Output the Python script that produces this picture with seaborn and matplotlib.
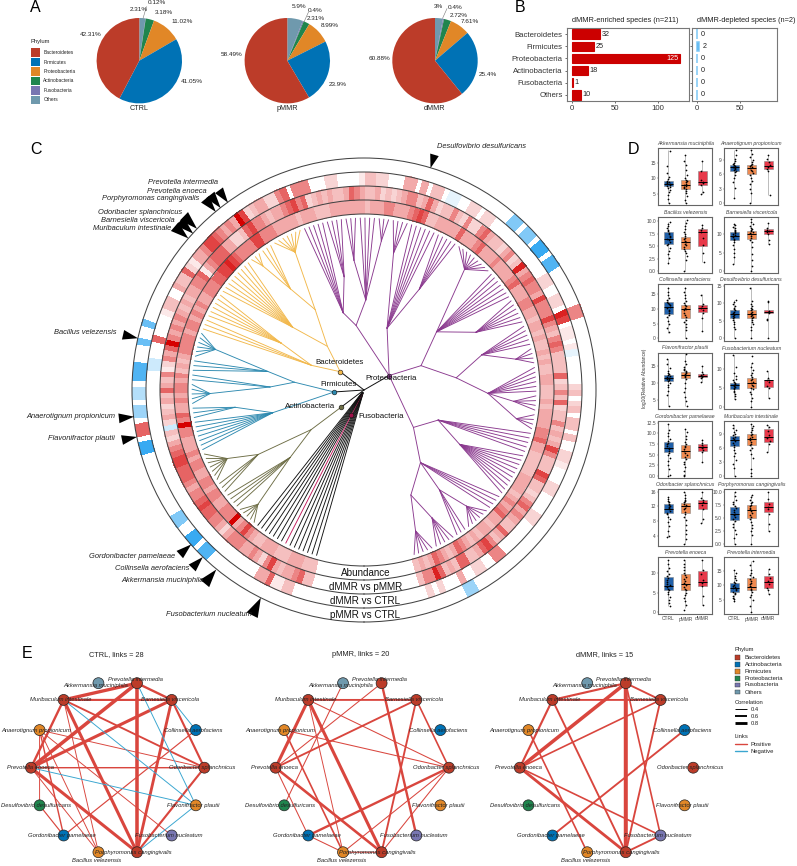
import numpy as np
import pandas as pd
import matplotlib
matplotlib.use('Agg')
import matplotlib.pyplot as plt
import seaborn as sns
from matplotlib.colors import LinearSegmentedColormap, Normalize
from matplotlib.markers import MarkerStyle
from matplotlib.path import Path
from matplotlib.patches import Rectangle
from matplotlib.transforms import Affine2D

sns.set_theme(style='white')
plt.rcParams['font.family'] = ['Liberation Sans', 'DejaVu Sans']

W, H = 797, 866

# ---------- panel A ----------
pie_phyla = ['Others', 'Fusobacteria', 'Actinobacteria', 'Proteobacteria', 'Firmicutes', 'Bacteroidetes']
pie_colors = ['#6F99AD', '#7876B1', '#20854E', '#E18727', '#0072B5', '#BC3C29']
ctrl_pct = [2.31, 0.12, 3.18, 11.02, 41.05, 42.31]
pmmr_pct = [5.9, 0.4, 2.31, 8.99, 23.9, 58.49]
dmmr_pct = [3, 0.4, 2.72, 7.61, 25.4, 60.88]

# ---------- panel B ----------
bar_phyla = ['Bacteroidetes', 'Firmicutes', 'Proteobacteria', 'Actinobacteria', 'Fusobacteria', 'Others']
enriched = [32, 25, 125, 18, 1, 10]
depleted = [0, 2, 0, 0, 0, 0]

# ---------- panel C rings, one value per species, clockwise from the bottom ----------
ring_abundance = [
    3, 3, 3, 4, 4, 4, 3, 3, 3, 4,
    4, 4, 3, 3, 4, 5, 7, 5, 4, 9,
    5, 5, 5, 4, 4, 5, 5, 4, 5, 5,
    4, 4, 5, 5, 4, 5, 4, 4, 4, 5,
    5, 9, 5, 6, 4, 4, 5, 4, 5, 5,
    4, 5, 3, 4, 3, 4, 5, 5, 5, 5,
    4, 5, 5, 4, 5, 4, 5, 4, 4, 5,
    5, 5, 6, 6, 7, 7, 8, 7, 6, 5,
    5, 5, 5, 7, 7, 5, 5, 5, 4, 4,
    4, 4, 4, 3, 4, 4, 4, 3, 3, 3,
    4, 4, 4, 4, 4, 4, 4, 3, 4, 4,
    4, 5, 5, 4, 4, 4, 5, 6, 7, 6,
    3, 3, 4, 4, 4, 4, 4, 6, 4, 4,
    4, 5, 6, 4, 4, 4, 5, 4, 4, 4,
    4, 5, 6, 4, 4, 4, 5, 5, 4, 4,
    3, 4, 4, 3, 4, 3, 3, 4, 3, 4,
    3, 3, 4, 4, 3, 3, 3, 4, 3, 4,
    4, 4, 4, 5, 5, 6, 4, 4, 3, 3,
    3, 3, 3, 4, 4, 4, 4, 3, 4, 5,
    4, 5, 6, 4, 4, 3, 4, 4, 3, 4,
    3, 4, 5, 6, 4, 3, 4, 5, 6, 4,
    3, 4, 3]
ring_dmmr_pmmr = [
    3, 3, 6, 5, 4, 4, 3, 4, 7, 5,
    2, 4, 5, 4, 4, 5, 5, 5, 4, 2,
    4, 5, 5, 6, 6, 7, 6, 5, 5, 4,
    5, 6, 6, 6, 7, 7, 6, 5, 4, 2,
    3, -2, 2, 4, 3, 2, 4, 3, 6, 4,
    3, 5, 1, 2, 5, 4, 6, 9, 5, 4,
    5, 4, 5, 4, 3, 4, 3, 4, 4, 5,
    5, 6, 1, 4, 5, 6, 6, 6, 4, 4,
    2, 2, 3, 6, 7, 5, 5, 4, 3, 4,
    4, 5, 6, 7, 5, 6, 2, 3, 4, 3,
    4, 3, 3, 4, 6, 5, 4, 3, 3, 4,
    2, 3, 2, 3, 4, 5, 5, 3, 4, 6,
    4, 2, 3, 3, 5, 3, 2, 5, 2, 2,
    5, 6, 4, 3, 3, 2, 4, 5, 2, 3,
    8, 4, 5, 6, 5, 5, 4, 7, 5, 5,
    5, 7, 5, 4, 3, 5, 6, 5, 3, 3,
    3, 3, 6, 2, 3, 5, 3, 6, 2, 3,
    3, 5, 3, 4, 3, 4, 7, 5, 3, 3,
    3, 7, 6, 3, 3, 2, 3, 5, 6, 4,
    5, 4, 3, 3, 6, 4, 3, 5, 7, 6,
    4, 3, 3, 6, 6, 3, 4, 3, 6, 8,
    5, 5, 3]
ring_dmmr_ctrl = [
    0, 0, 0, 3, 3, 1, 1, 6, 4, 4,
    0, 0, 0, 0, 0, 0, 0, 0, 0, 0,
    0, 0, 0, 0, 0, 0, 0, 0, 0, 0,
    0, 0, 0, 0, 0, 0, 0, 0, 0, 0,
    0, 0, 0, 0, 0, 0, 0, 0, 0, 0,
    0, 0, -2, -2, 0, 0, 0, 6, 0, 0,
    0, 0, 1, 3, 3, 0, 0, 4, 3, 3,
    6, 2, 1, 4, 4, 5, 7, 7, 6, 5,
    4, 5, 4, 9, 7, 2, 3, 4, 4, 2,
    2, 5, 6, 0, 5, 5, 5, 0, 0, 0,
    2, 2, 0, 0, 0, 0, 1, 3, 3, 2,
    2, 0, 0, 0, 4, 4, 0, 4, 0, 3,
    3, 0, -1, -1, 0, 0, 2, 2, 0, 2,
    2, 0, 0, 0, 0, 0, 0, 0, 0, 0,
    0, 0, 0, 0, 2, 2, 0, 0, 2, 2,
    0, 8, 7, 0, 1, 1, 0, 1, -1, 0,
    0, 0, 0, 0, 2, 3, 0, 2, 3, 0,
    3, 3, 0, 3, 0, 0, 2, 2, 1, 0,
    0, 0, 2, 2, 0, 0, 0, 0, 2, 2,
    0, 0, 0, 0, 0, 0, 0, 5, 5, 0,
    0, 2, 2, 0, 0, 4, 0, 0, 0, 2,
    0, 2, 0]
ring_pmmr_ctrl = [
    0, 0, 0, 0, 0, 0, 0, 0, 0, 0,
    0, 0, 0, 0, 0, 0, 0, 0, -7, -7,
    0, -8, -8, 0, 0, -5, -5, 0, 0, 0,
    0, 0, 0, 0, 0, 0, 0, 0, -8, -8,
    0, 6, 6, 0, -4, -4, 0, -3, -3, 0,
    -7, -7, -7, 0, 0, 0, -6, 0, 0, -6,
    0, 0, 0, 0, 0, 0, 0, 0, 0, 0,
    0, 0, 0, 0, 0, 0, 0, 0, 0, 0,
    0, 0, 0, 0, 0, 0, 0, 0, 0, 0,
    0, 0, 0, 0, 0, 0, 0, 0, 0, 0,
    0, 0, 0, 0, 0, 0, 0, 0, 0, 0,
    0, 0, 0, 0, 0, 0, 0, 0, 0, 0,
    0, 0, 0, 0, 0, 0, 0, 0, 0, 0,
    0, 0, 0, -5, -5, 0, -5, -5, 0, -8,
    -8, 0, -7, -7, 0, 0, 0, 0, 0, 0,
    0, 5, 5, 0, 0, 0, 0, 0, 0, 0,
    0, 0, 0, 0, 0, 0, 0, 0, 0, 0,
    0, 0, 0, 0, 0, 0, 0, 0, 0, 0,
    0, 0, 0, 0, 0, 0, 0, 0, 0, 0,
    0, 0, 0, 0, 0, 0, 0, 0, 0, 0,
    0, 0, 0, 0, -4, -4, 0, 0, 0, 0,
    0, 0, 0]
rings = [ring_abundance, ring_dmmr_pmmr, ring_dmmr_ctrl, ring_pmmr_ctrl]
ring_names = ['Abundance', 'dMMR vs pMMR', 'dMMR vs CTRL', 'pMMR vs CTRL']

# tree clades: (node radius, children); a plain int means that many tips on the node
tree_actino = (29, [(66, [(100, [(156, [5]), 4]), (124, [3, (153, [7])])])])
tree_firmi = (30, [(94, [7, (130, [3])]), (70, [(94, [(154, [5]), 2]), (98, [3, (154, [6])])])])
tree_bacte = (30, [(58, [3, (95, [6])]),
                   (57, [(95, [9]), (94, [(125, [(160, [3]), 3]), (154, [7])])])])
tree_proteo = (29, [
    (65, [(80, [5, (115, [4])]), (90, [(130, [3]), 4, (150, [3])])]),
    (66, [(140, [4]), 6, (115, [5])]),
    (62, [(93, [(157, [9]), 7, (126, [6])]),
          (93, [(123, [5, (155, [4])]), (124, [6, (150, [4]), (155, [4])])])]),
    (62, [(80, [5, (110, [10])]),
          (92, [4, (125, [(155, [6]), 3]), (115, [(145, [5]), (150, [5])])])]),
])

target_names = ['Fusobacterium nucleatum', 'Akkermansia muciniphila', 'Collinsella aerofaciens',
                'Gordonibacter pamelaeae', 'Flavonifractor plautii', 'Anaerotignum propionicum',
                'Bacillus velezensis', 'Muribaculum intestinale', 'Barnesiella viscericola',
                'Odoribacter splanchnicus', 'Porphyromonas cangingivalis', 'Prevotella enoeca',
                'Prevotella intermedia', 'Desulfovibrio desulfuricans']
target_index = [7.5, 16, 18.9, 21.6, 41, 44.4, 57, 75, 76, 77, 81, 82, 83.5, 117.5]
target_size = [14, 13, 11, 11, 11, 11, 11, 13, 13, 13, 12, 12, 11, 10]

# ---------- panel D: [low, q1, median, q3, high] and points per group ----------
groups = ['CTRL', 'pMMR', 'dMMR']
group_colors = ['#1f5fa8', '#f08a50', '#e8394a']

akk_box = [[1.9, 7.3, 8.2, 9, 19], [2, 6.6, 7.8, 9.4, 17.5], [4.8, 7.8, 8.6, 12.4, 15.5]]
akk_pts = [[2.1, 3.4, 4.5, 5.6, 6.3, 6.9, 7.2, 7.5, 7.8, 8, 8.2, 8.4, 8.6, 8.9, 9.1, 9.6, 10.4, 11.8, 14, 18.7],
           [2, 3.1, 4.2, 5.2, 5.9, 6.4, 6.8, 7.2, 7.6, 7.9, 8.2, 8.6, 9, 9.4, 10, 11, 12.6, 14.2, 15.6, 17.4],
           [4.8, 5.4, 7.9, 8.3, 8.7, 9.5, 12.3, 15.4]]
ana_box = [[1, 6.7, 7.5, 8, 11.1], [0, 6, 7.3, 8, 11], [1.7, 7.05, 7.75, 8.8, 10]]
ana_pts = [[1, 3.1, 4.3, 5.2, 5.9, 6.5, 6.8, 7, 7.2, 7.4, 7.5, 7.6, 7.8, 7.9, 8.1, 8.3, 8.7, 9.2, 10, 11],
           [0, 2, 3, 3.9, 4.6, 5.2, 5.8, 6.2, 6.7, 7, 7.3, 7.5, 7.7, 7.9, 8.2, 8.6, 9, 9.6, 10.3, 11],
           [1.7, 6.8, 7.2, 7.6, 7.9, 8.6, 9.2, 10]]
bac_box = [[1.5, 5.4, 6.5, 7.9, 9.8], [0, 4.5, 5.8, 6.8, 10.2], [1.9, 5, 7.8, 8.5, 9.4]]
bac_pts = [[1.6, 2.7, 3.4, 4.1, 4.7, 5.2, 5.5, 5.9, 6.2, 6.5, 6.8, 7.1, 7.4, 7.7, 8, 8.3, 8.7, 9, 9.4, 9.8],
           [0, 2.2, 3, 3.6, 4.1, 4.5, 4.9, 5.2, 5.5, 5.8, 6.1, 6.4, 6.7, 7, 7.4, 7.9, 8.5, 9, 9.6, 10.2],
           [1.9, 3.6, 5.2, 6.6, 7.8, 8.2, 8.7, 9.3]]
bar_box = [[1.8, 8.4, 9.5, 10.6, 12.6], [0, 8.7, 10, 10.9, 14], [7.3, 9.9, 10.7, 11.4, 13]]
bar_pts = [[1.9, 3.7, 4.9, 5.9, 7, 7.8, 8.3, 8.7, 9.1, 9.4, 9.7, 10, 10.3, 10.6, 10.9, 11.2, 11.6, 12, 12.4, 12.7],
           [0, 1.4, 2.9, 4.5, 6.4, 7.8, 8.5, 9, 9.4, 9.9, 10.2, 10.5, 10.8, 11, 11.3, 11.7, 12.1, 12.6, 13.3, 14],
           [7.4, 8.3, 9.9, 10.5, 10.8, 11.2, 11.6, 12.9]]
col_box = [[1.9, 8.4, 10.6, 12.3, 17.4], [0, 6.9, 10, 11.2, 17.4], [2.5, 9, 10.3, 11.2, 15]]
col_pts = [[2, 3.5, 4.8, 6, 7.2, 8, 8.6, 9.2, 9.8, 10.3, 10.8, 11.2, 11.6, 12, 12.4, 13, 13.8, 14.7, 15.8, 17.3],
           [0, 2.8, 3.9, 4.8, 5.6, 6.4, 7.1, 8, 8.8, 9.5, 10, 10.5, 10.9, 11.3, 11.9, 12.7, 13.6, 14.6, 15.8, 17.3],
           [2.5, 7, 8.7, 9.6, 10.3, 10.9, 11.6, 14.9]]
des_box = [[0, 5.9, 7.1, 8, 11], [0, 5.9, 7.1, 8, 14.6], [0, 7.3, 7.6, 8, 10.6]]
des_pts = [[0, 2.6, 3.4, 4.1, 4.7, 5.2, 5.7, 6.1, 6.5, 6.8, 7.1, 7.4, 7.7, 8, 8.3, 8.7, 9.2, 9.8, 10.4, 11],
           [0, 2.4, 3.2, 4, 4.6, 5.2, 5.7, 6.1, 6.5, 6.8, 7.1, 7.4, 7.7, 8, 8.3, 8.7, 9.2, 9.8, 10.6, 14.5],
           [0, 5.3, 5.6, 7.3, 7.6, 7.9, 10.3, 10.6]]
fla_box = [[3, 10.5, 11.3, 12.3, 17], [3, 11.3, 12.3, 13, 18.5], [10.2, 11.5, 12, 12.6, 15]]
fla_pts = [[3.1, 6.4, 7.5, 8.6, 9.4, 10, 10.4, 10.7, 11, 11.2, 11.4, 11.6, 11.9, 12.2, 12.5, 12.9, 13.4, 14.2, 15.4, 16.8],
           [3.1, 4.6, 5.8, 7.2, 8.5, 10, 11, 11.5, 11.9, 12.2, 12.5, 12.7, 13, 13.3, 13.7, 14.1, 14.7, 15.4, 16.4, 18.4],
           [10.3, 11.4, 11.7, 12, 12.2, 12.6, 13.2, 15]]
fus_box = [[2, 4.7, 5.7, 6.2, 13.7], [0, 4.8, 6.2, 7.6, 11.6], [2.3, 5.2, 6.9, 7.1, 9.4]]
fus_pts = [[2, 2.7, 3.3, 3.8, 4.2, 4.6, 4.9, 5.2, 5.4, 5.6, 5.8, 6, 6.2, 6.5, 6.9, 7.4, 8, 8.8, 10.5, 13.6],
           [0, 1.6, 2.4, 3.3, 4, 4.6, 5, 5.4, 5.8, 6.2, 6.6, 7, 7.4, 7.8, 8.3, 8.9, 9.6, 10.4, 11.5, 13.4],
           [2.3, 4.9, 5.4, 6.5, 6.9, 7.1, 7.6, 9.3]]
gor_box = [[0, 5.6, 6.6, 8, 12.3], [0, 4.2, 5.9, 7.2, 11.1], [3.3, 5.9, 6.7, 7.5, 8.6]]
gor_pts = [[0, 0.2, 1.6, 2.5, 3.4, 4.2, 4.9, 5.4, 5.8, 6.2, 6.6, 7, 7.4, 7.8, 8.2, 8.7, 9.3, 10, 10.8, 12.2],
           [0, 0.2, 1.2, 2, 2.7, 3.3, 3.9, 4.4, 4.9, 5.4, 5.9, 6.3, 6.7, 7.1, 7.5, 8, 8.6, 9.3, 10.2, 11.1],
           [3.3, 5.5, 6, 6.5, 6.8, 7.2, 7.6, 8.5]]
mur_box = [[0, 6.4, 7.8, 8.7, 11], [0, 6.7, 7.9, 9, 11.3], [5.2, 7.4, 8.5, 10.2, 11]]
mur_pts = [[0, 1.6, 2.6, 3.4, 4.3, 5, 5.6, 6.2, 6.7, 7.1, 7.5, 7.9, 8.2, 8.5, 8.8, 9.1, 9.5, 9.9, 10.4, 11],
           [0, 0.6, 1.4, 3.8, 4.8, 5.5, 6.1, 6.6, 7, 7.4, 7.8, 8.1, 8.5, 8.8, 9.1, 9.5, 9.9, 10.4, 10.9, 11.3],
           [5.2, 6.9, 7.6, 8.3, 8.8, 9.8, 10.5, 11]]
odo_box = [[3.7, 10.1, 11.4, 12.6, 14.5], [1.6, 10.3, 12, 13, 16], [7.4, 11.4, 12.9, 13.9, 16]]
odo_pts = [[3.7, 4, 5.4, 6.7, 7.7, 8.5, 9.2, 9.8, 10.3, 10.8, 11.2, 11.6, 11.9, 12.2, 12.5, 12.8, 13.2, 13.6, 14, 14.5],
           [1.6, 3, 4.4, 5.6, 7, 8.2, 9.2, 10, 10.6, 11.2, 11.7, 12.1, 12.5, 12.8, 13.1, 13.4, 13.9, 14.4, 15, 16],
           [7.4, 8.5, 11.2, 12.5, 13.1, 13.7, 14.4, 16]]
por_box = [[0, 4.6, 5.7, 7, 9.9], [0, 4.9, 6.5, 7.4, 9.4], [2.5, 6.2, 7.1, 8, 10]]
por_pts = [[0, 1.2, 2, 2.7, 3.3, 3.8, 4.3, 4.7, 5.1, 5.5, 5.8, 6.2, 6.5, 6.9, 7.2, 7.6, 8, 8.5, 9.2, 9.9],
           [0, 1.7, 2.5, 3.1, 3.7, 4.2, 4.7, 5.1, 5.5, 5.9, 6.3, 6.6, 6.9, 7.2, 7.5, 7.8, 8.1, 8.5, 8.9, 9.4],
           [2.5, 3.8, 5.8, 6.6, 7.1, 7.7, 8.6, 9.9]]
enc_box = [[1.5, 5.6, 6.8, 9, 13.4], [1, 5.7, 7.2, 9.7, 13.4], [1.9, 6.8, 7.7, 10.7, 13.4]]
enc_pts = [[1.5, 2.4, 3.2, 4, 4.6, 5.2, 5.7, 6.1, 6.5, 6.9, 7.3, 7.8, 8.3, 8.8, 9.3, 9.9, 10.6, 11.4, 12.4, 13.4],
           [0.6, 1.9, 2.8, 3.6, 4.4, 5, 5.6, 6.1, 6.6, 7.1, 7.5, 8, 8.5, 9, 9.6, 10.2, 10.9, 11.6, 12.4, 13.3],
           [1.9, 4.2, 6.8, 7.5, 8.2, 9.9, 10.8, 13.3]]
int_box = [[4.4, 7.6, 9, 10.7, 15.2], [1, 8.4, 9.5, 12.4, 18.4], [7, 9.2, 11, 13.2, 15.5]]
int_pts = [[4.5, 5.2, 5.8, 6.4, 7, 7.4, 7.8, 8.2, 8.6, 9, 9.4, 9.8, 10.2, 10.7, 11.2, 11.8, 12.5, 13.3, 14.2, 15.2],
           [1, 2.8, 5, 6, 6.8, 7.6, 8.3, 8.8, 9.3, 9.8, 10.3, 10.9, 11.5, 12.1, 12.8, 13.5, 14.3, 15.3, 16.8, 18.3],
           [7.1, 8.3, 9.2, 10.5, 11.3, 12.6, 13.8, 15.4]]

species_d = ['Akkermansia muciniphila', 'Anaerotignum propionicum', 'Bacillus velezensis', 'Barnesiella viscericola',
             'Collinsella aerofaciens', 'Desulfovibrio desulfuricans', 'Flavonifractor plautii', 'Fusobacterium nucleatum',
             'Gordonibacter pamelaeae', 'Muribaculum intestinale', 'Odoribacter splanchnicus', 'Porphyromonas cangingivalis',
             'Prevotella enoeca', 'Prevotella intermedia']
boxes_d = [akk_box, ana_box, bac_box, bar_box, col_box, des_box, fla_box, fus_box, gor_box, mur_box, odo_box, por_box, enc_box, int_box]
points_d = [akk_pts, ana_pts, bac_pts, bar_pts, col_pts, des_pts, fla_pts, fus_pts, gor_pts, mur_pts, odo_pts, por_pts, enc_pts, int_pts]
yticks_d = [[5, 10, 15], [0, 3, 6, 9], [0, 2.5, 5, 7.5, 10], [0, 5, 10], [0, 5, 10, 15], [0, 5, 10, 15], [5, 10, 15],
            [0, 5, 10], [0, 2.5, 5, 7.5, 10, 12.5], [0, 3, 6, 9], [4, 8, 12, 16], [0, 2.5, 5, 7.5, 10], [0, 5, 10], [5, 10, 15]]
ylims_d = [(1.34, 19.6), (-0.42, 11.45), (-0.47, 10.94), (-0.63, 14.7), (-0.9, 18.4), (-0.75, 15.5), (2.1, 18.8),
           (-0.7, 14.2), (-0.47, 12.9), (-0.44, 11.9), (1.15, 16.7), (-0.38, 10.45), (-0.43, 14.1), (0.2, 19.5)]

# ---------- panel E ----------
net_species = ['Prevotella intermedia', 'Barnesiella viscericola', 'Collinsella aerofaciens', 'Odoribacter splanchnicus',
               'Flavonifractor plautii', 'Fusobacterium nucleatum', 'Porphyromonas cangingivalis', 'Bacillus velezensis',
               'Gordonibacter pamelaeae', 'Desulfovibrio desulfuricans', 'Prevotella enoeca', 'Anaerotignum propionicum',
               'Muribaculum intestinale', 'Akkermansia muciniphila']
net_colors = ['#BC3C29', '#BC3C29', '#0072B5', '#BC3C29', '#E18727', '#7876B1', '#BC3C29', '#E18727',
              '#0072B5', '#20854E', '#BC3C29', '#E18727', '#BC3C29', '#6F99AD']
ctrl_pos = [(0, 12, .9), (0, 1, .7), (0, 10, .95), (0, 6, .95), (1, 10, .85), (1, 12, .65), (12, 10, .7), (12, 6, .85),
            (1, 6, .8), (1, 3, .65), (3, 6, .65), (10, 6, .85), (10, 3, .5), (12, 3, .6), (11, 9, .4), (11, 3, .4),
            (11, 8, .5), (11, 5, .4), (9, 8, .45), (12, 7, .4), (8, 2, .45), (11, 7, .4), (10, 7, .4)]
ctrl_neg = [(12, 4, .4), (0, 4, .4), (1, 2, .4), (10, 4, .4), (6, 4, .4)]
pmmr_pos = [(12, 1, .6), (12, 10, .85), (12, 6, .85), (12, 7, .4), (12, 3, .42), (10, 1, .6), (10, 0, .42), (10, 6, .75),
            (10, 8, .42), (11, 3, .42), (11, 7, .55), (13, 9, .42), (1, 3, .55), (1, 6, .6), (0, 5, .7), (3, 8, .7),
            (3, 7, .42), (3, 6, .42), (8, 7, .42), (7, 6, .42)]
pmmr_neg = []
dmmr_pos = [(0, 12, .65), (0, 1, .6), (0, 10, .95), (0, 6, 1.05), (0, 5, .55), (1, 12, .6), (1, 10, .55), (1, 6, .6),
            (12, 10, .65), (12, 6, .6), (10, 6, .8), (11, 7, .55), (2, 8, .6), (5, 6, .6), (10, 5, .55)]
dmmr_neg = []
net_titles = ['CTRL, links = 28', 'pMMR, links = 20', 'dMMR, links = 15']
legend_phyla = ['Bacteroidetes', 'Actinobacteria', 'Firmicutes', 'Proteobacteria', 'Fusobacteria', 'Others']
legend_colors = ['#BC3C29', '#0072B5', '#E18727', '#20854E', '#7876B1', '#6F99AD']
legend_corr = [0.4, 0.6, 0.8]

fig = plt.figure(figsize=(W / 100, H / 100), dpi=100, facecolor='white')


def px_ax(x0, y0, x1, y1, **kw):
    return fig.add_axes([x0 / W, 1 - y1 / H, (x1 - x0) / W, (y1 - y0) / H], **kw)


# overlay in pixel coordinates for loose labels and hand legends
top = px_ax(0, 0, W, H)
top.set_xlim(0, W)
top.set_ylim(H, 0)
top.axis('off')
top.set_zorder(50)
top.patch.set_alpha(0)

for letter, (x, y) in zip('ABCDE', [(30, 8), (515, 8), (30, 149), (628, 149), (22, 654)]):
    top.text(x, y, letter, fontsize=11.5, va='center', ha='left', color='black')

# ---------- A: pies ----------
pie_data = [ctrl_pct, pmmr_pct, dmmr_pct]
pie_cx = [139.3, 287.3, 435]
pie_names = ['CTRL', 'pMMR', 'dMMR']
pie_label_xy = [
    [(138.3, 9.3), (156.7, 2.7), (163.7, 12.3), (181.7, 21.3), (191.7, 81.7), (91, 34)],
    [(299.3, 6.7), (315, 10), (316, 18.3), (330, 25.7), (337.7, 84.3), (231.7, 55)],
    [(438.7, 6.7), (455, 7.3), (458.3, 15.7), (470, 21.7), (488.3, 74.7), (379.3, 58.3)],
]
leaders = [((146.5, 6.5), (143, 18.5)), ((308.5, 12), (304, 22)), ((447, 8.5), (442.5, 18.5))]
for vals, cx, name, lab_xy, lead in zip(pie_data, pie_cx, pie_names, pie_label_xy, leaders):
    ax = px_ax(cx - 42.7, 60.7 - 42.7, cx + 42.7, 60.7 + 42.7)
    ax.pie(vals, colors=pie_colors, startangle=90, counterclock=False, radius=1, wedgeprops={'linewidth': 0})
    ax.set_xlim(-1, 1)
    ax.set_ylim(-1, 1)
    for v, (x, y) in zip(vals, lab_xy):
        top.text(x, y, f'{v}%', fontsize=4.6, ha='center', va='center', color='#222222')
    top.plot([lead[0][0], lead[1][0]], [lead[0][1], lead[1][1]], color='#777777', lw=0.4)
    top.text(cx, 109, name, fontsize=5.2, ha='center', va='center', color='#222222')

top.text(31, 41.7, 'Phylum', fontsize=4.2, va='center', color='#222222')
for name, c, y in zip(pie_phyla[::-1], pie_colors[::-1], [52.3, 62, 71.3, 81, 90.3, 99.7]):
    top.add_patch(Rectangle((31.3, y - 4.2), 8.7, 8.4, color=c, lw=0))
    top.text(43.3, y, name, fontsize=3.5, va='center', color='#222222')

# ---------- B: bars ----------
ax_l = px_ax(566.7, 28, 689, 101)
sns.barplot(x=enriched, y=bar_phyla, ax=ax_l, color='#cc0000', saturation=1, width=0.78, orient='h',
            edgecolor='#cc0000', linewidth=0.8)
ax_l.set_xlim(-6.2, 136)
ax_l.set_xticks([0, 50, 100])
for i, v in enumerate(enriched):
    if v > 100:
        ax_l.text(v - 1, i, str(v), color='white', fontsize=5.2, ha='right', va='center')
    else:
        ax_l.text(v + 2, i, str(v), color='#222222', fontsize=5.2, ha='left', va='center')
top.text(625.7, 21, 'dMMR-enriched species (n=211)', fontsize=5.3, ha='center', va='center', color='#222222')

ax_r = px_ax(691.7, 28, 777, 101)
sns.barplot(x=depleted, y=bar_phyla, ax=ax_r, color='#1e9bf0', saturation=1, width=0.78, orient='h',
            edgecolor='#7cc7f5', linewidth=1.1)
ax_r.set_xlim(-6.2, 93)
ax_r.set_xticks([0, 50])
ax_r.set_yticklabels([])
for i, v in enumerate(depleted):
    ax_r.text(v + 4, i, str(v), color='#222222', fontsize=5.2, ha='left', va='center')
top.text(746, 21, 'dMMR-depleted species (n=2)', fontsize=5.3, ha='center', va='center', color='#222222')
for ax in (ax_l, ax_r):
    ax.set_xlabel('')
    ax.set_ylabel('')
    ax.tick_params(axis='both', labelsize=5.6, length=1.5, width=0.5, pad=1.5, colors='#333333',
                   left=True, bottom=True)
    for s in ax.spines.values():
        s.set_color('#777777')
        s.set_linewidth(0.8)

# ---------- C: circular tree with rings ----------
CX, CY, RMAX = 364, 390, 240
pol = px_ax(CX - RMAX, CY - RMAX, CX + RMAX, CY + RMAX, projection='polar')
pol.set_theta_zero_location('S')
pol.set_theta_direction(-1)
pol.set_rlim(0, RMAX)
pol.patch.set_alpha(0)
pol.spines['polar'].set_visible(False)

cmap = LinearSegmentedColormap.from_list('ring', [(0, '#1f9ff0'), (0.5, '#ffffff'), (0.72, '#f2aaaa'), (1, '#d60000')])
norm = Normalize(-9, 9)
ring_r = [176, 190, 204, 218, 232]
cell_step = 1.545
for k, vals in enumerate(rings):
    edges = np.radians(15 + cell_step * np.arange(len(vals) + 1))
    arr = np.ma.masked_equal(np.array([vals], dtype=float), 0)
    pol.pcolormesh(edges, [ring_r[k], ring_r[k + 1]], arr, cmap=cmap, norm=norm, shading='flat', zorder=1)

pol.set_xticks([])
pol.set_rticks(ring_r)
pol.set_yticklabels([])
pol.grid(True, axis='y', color='#444444', lw=0.75)
pol.set_axisbelow(False)

tree_step = 1.58
tip_r = 172
tip_counter = [0]


def draw_node(node, color):
    """Walk a clade and draw it, gives back the node position."""
    radius, children = node
    spots = []
    for ch in children:
        if isinstance(ch, int):
            for _ in range(ch):
                th = np.radians(16 + tree_step * tip_counter[0])
                tip_counter[0] += 1
                spots.append((th, tip_r))
        else:
            spots.append(draw_node(ch, color))
    th0 = np.mean([spots[0][0], spots[-1][0]])
    for th, r in spots:
        pol.plot([th0, th], [radius, r], color=color, lw=0.65, zorder=2, solid_capstyle='round')
    return th0, radius


def draw_leaf_run(n, color):
    for _ in range(n):
        th = np.radians(16 + tree_step * tip_counter[0])
        tip_counter[0] += 1
        pol.plot([th, th], [3, tip_r], color=color, lw=0.65, zorder=2)


node_spots = []
draw_leaf_run(7, '#111111')
fu_th = np.radians(16 + tree_step * tip_counter[0])
draw_leaf_run(1, '#c2185b')
node_spots.append((fu_th, 28, '#a0104a'))
draw_leaf_run(7, '#111111')
for clade, c in [(tree_actino, '#6d6d45'), (tree_firmi, '#2e8ab0'), (tree_bacte, '#f2b84b'), (tree_proteo, '#8b3a8f')]:
    th, r = draw_node(clade, c)
    pol.plot([0, th], [0, r], color='#111111', lw=0.7, zorder=2)
    node_spots.append((th, r, c))
for th, r, c in node_spots:
    pol.plot([th], [r], 'o', ms=3.4, mfc=c, mec='#111111', mew=0.4, zorder=3)

tri_path = Path([(0, -0.5), (-0.32, 0.5), (0.32, 0.5), (0, -0.5)], closed=True)
for idx, size in zip(target_index, target_size):
    th_deg = 15 + cell_step * idx
    tri = MarkerStyle(tri_path, transform=Affine2D().rotate_deg(180 - th_deg))
    pol.plot([np.radians(th_deg)], [232 + size * 0.72], marker=tri, ms=size, color='black', mew=0,
             clip_on=False, zorder=4)

target_ends = [(251.7, 615, 'right'), (203.3, 580.7, 'right'), (189.3, 569, 'right'), (175, 556.7, 'right'),
               (115, 438, 'right'), (115, 417, 'right'), (117, 333, 'right'), (171, 228, 'right'), (175, 220, 'right'),
               (181.7, 212.7, 'right'), (199.3, 199, 'right'), (207, 191.7, 'right'), (218, 183, 'right'),
               (437, 147, 'left')]
for name, (x, y, ha) in zip(target_names, target_ends):
    top.text(x, y, name, fontsize=5.4, style='italic', ha=ha, va='center', color='#222222')

for name, y in zip(ring_names, [573, 587, 601, 615]):
    top.text(365.5, y, name, fontsize=7.1, ha='center', va='center', color='#111111')
for name, x, y, ha in [('Bacteroidetes', 340, 363, 'center'), ('Firmicutes', 339, 385, 'center'),
                       ('Proteobacteria', 391, 379, 'center'), ('Actinobacteria', 335, 406, 'right'),
                       ('Fusobacteria', 358, 416, 'left')]:
    top.text(x, y, name, fontsize=5.7, ha=ha, va='center', color='#111111')

# ---------- D: boxes with points ----------
rows_y = [148.3, 216.7, 284.3, 352.7, 421, 489.3, 557.3]
cols_x = [658.3, 724.3]
for n, name in enumerate(species_d):
    row, col = n // 2, n % 2
    x0, y0 = cols_x[col], rows_y[row]
    ax = px_ax(x0, y0, x0 + 54, y0 + 56.7)
    bx_rows = [(g, v) for g, vals in zip(groups, boxes_d[n]) for v in vals]
    bx = pd.DataFrame(bx_rows, columns=['group', 'value'])
    pt_rows = [(g, v) for g, vals in zip(groups, points_d[n]) for v in vals]
    pts = pd.DataFrame(pt_rows, columns=['group', 'value'])
    sns.boxplot(data=bx, x='group', y='value', hue='group', order=groups, hue_order=groups, palette=group_colors,
                ax=ax, width=0.55, whis=(0, 100), showfliers=False, showcaps=False, saturation=1, legend=False,
                linewidth=0.4, linecolor='#8a8a8a', medianprops={'color': 'black', 'linewidth': 0.7})
    sns.stripplot(data=pts, x='group', y='value', order=groups, ax=ax, color='black', size=1.25, jitter=0.09,
                  linewidth=0, zorder=5)
    ax.set_ylim(*ylims_d[n])
    ax.set_yticks(yticks_d[n])
    ax.set_xlim(-0.6, 2.6)
    ax.set_xlabel('')
    ax.set_ylabel('')
    ax.tick_params(axis='y', labelsize=3.5, length=1, width=0.3, pad=0.8, colors='#444444', left=True)
    if row == 6:
        ax.tick_params(axis='x', labelsize=3.5, length=1, width=0.3, pad=0.8, colors='#444444', bottom=True)
    else:
        ax.set_xticks([])
    for s in ax.spines.values():
        s.set_color('#666666')
        s.set_linewidth(0.8)
    top.text(x0 + 27, y0 - 4.7, name, fontsize=3.7, style='italic', ha='center', va='center', color='#444444')
top.text(645, 378, 'log10(Relative Abundance)', fontsize=3.5, rotation=90, ha='center', va='center', color='#333333')

# ---------- E: networks ----------
node_angles = np.radians(12.857 + 25.714 * np.arange(len(net_species)))
node_x = np.sin(node_angles)
node_y = np.cos(node_angles)
label_dx = [-2, -2, -2.3, -2.7, -2.7, -2.7, -4, -1.7, -1.7, -3.7, -1, -3.7, -3, -2.3]
label_dy = [3.3, 0, 0, 0, 0, 0, 0, -8.7, 0, 0, 0, 0, 0, -2.3]
NET_R = 86.7
net_links = [(ctrl_pos, ctrl_neg), (pmmr_pos, pmmr_neg), (dmmr_pos, dmmr_neg)]
net_cx = [117.7, 362.3, 606.5]
title_cx = [116.7, 361, 605]


def corr_width(c):
    return (c - 0.2) * 3.4


for (pos, neg), cx, t_cx, title in zip(net_links, net_cx, title_cx, net_titles):
    ax = px_ax(cx - 105, 767.7 - 105, cx + 105, 767.7 + 105)
    ax.set_xlim(-105 / NET_R, 105 / NET_R)
    ax.set_ylim(-105 / NET_R, 105 / NET_R)
    ax.axis('off')
    for a, b, c in pos:
        ax.plot([node_x[a], node_x[b]], [node_y[a], node_y[b]], color='#d9463e', lw=corr_width(c), zorder=1,
                solid_capstyle='round')
    for a, b, c in neg:
        ax.plot([node_x[a], node_x[b]], [node_y[a], node_y[b]], color='#3aa6d0', lw=corr_width(c), zorder=1.1)
    sns.scatterplot(x=node_x, y=node_y, hue=net_species, palette=dict(zip(net_species, net_colors)), s=62,
                    edgecolor='#222222', linewidth=0.5, legend=False, ax=ax, zorder=2, clip_on=False)
    for name, x, y, dx, dy in zip(net_species, node_x, node_y, label_dx, label_dy):
        ax.text(x + dx / NET_R, y + dy / NET_R, name, fontsize=4.25, style='italic', ha='center', va='center',
                color='#222222', zorder=3, clip_on=False)
    top.text(t_cx, 655, title, fontsize=5.3, ha='center', va='center', color='#222222')

top.text(735, 650, 'Phylum', fontsize=4.2, va='center', color='#222222')
for name, c, y in zip(legend_phyla, legend_colors, [657.7, 664.3, 671.3, 678.3, 685, 692]):
    top.add_patch(Rectangle((735.5, y - 2.4), 5, 4.8, facecolor=c, edgecolor='#333333', lw=0.3))
    top.text(745, y, name, fontsize=4.2, va='center', color='#222222')
top.text(735, 702, 'Correlation', fontsize=4.2, va='center', color='#222222')
for c, y in zip(legend_corr, [709.3, 716.3, 723.3]):
    top.plot([735, 746.7], [y, y], color='black', lw=corr_width(c), solid_capstyle='butt')
    top.text(751, y, str(c), fontsize=4.2, va='center', color='#222222')
top.text(735, 736.3, 'Links', fontsize=4.2, va='center', color='#222222')
for name, c, y in zip(['Positive', 'Negative'], ['#d9463e', '#3aa6d0'], [744, 751]):
    top.plot([735, 746.7], [y, y], color=c, lw=1)
    top.text(751, y, name, fontsize=4.2, va='center', color='#222222')

fig.savefig('out.png', dpi=100, facecolor='white')
